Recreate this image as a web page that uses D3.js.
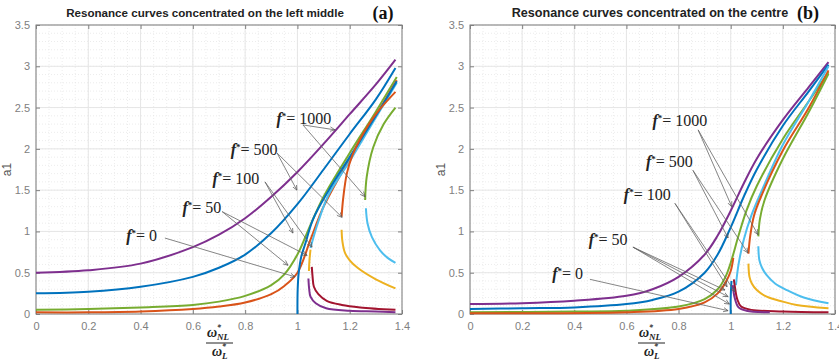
<!DOCTYPE html>
<html>
<head>
<meta charset="utf-8">
<script src="https://cdn.jsdelivr.net/npm/d3@7"></script>
<style>
  body { margin: 0; background: #fff; }
  svg { display: block; }
  .tick text { font-family: Arial, "Liberation Sans", sans-serif; font-size: 11px; fill: #808080; }
</style>
</head>
<body>
<div id="chart"></div>
<script>
// tick values
const xTicks = [0, 0.2, 0.4, 0.6, 0.8, 1, 1.2, 1.4];
const yTicks = [0, 0.5, 1, 1.5, 2, 2.5, 3, 3.5];

// panel (a) curves, [w, a1]
const aPurple = [[0,0.50],[0.2,0.53],[0.4,0.61],[0.6,0.81],[0.7,0.96],[0.8,1.16],[0.9,1.42],[1.0,1.72],[1.1,2.06],[1.2,2.42],[1.3,2.78],[1.375,3.08]];
const aBlue = [[0,0.25],[0.2,0.27],[0.4,0.33],[0.6,0.45],[0.7,0.56],[0.8,0.72],[0.9,0.98],[1.0,1.33],[1.1,1.75],[1.2,2.18],[1.3,2.60],[1.375,2.98]];
const aGreen = [[0,0.05],[0.2,0.06],[0.4,0.08],[0.6,0.11],[0.7,0.15],[0.8,0.22],[0.9,0.35],[0.95,0.48],[1.0,0.72],[1.05,1.08],[1.1,1.42],[1.2,1.95],[1.3,2.45],[1.38,2.87]];
const aOrange = [[0,0.02],[0.2,0.02],[0.4,0.03],[0.6,0.06],[0.7,0.09],[0.8,0.14],[0.9,0.24],[0.95,0.34],[1.0,0.50],[1.05,0.90],[1.1,1.30],[1.2,1.88],[1.3,2.40],[1.38,2.83]];
const aBackbone = [[1.0,0],[1.001,0.3],[1.005,0.5],[1.015,0.7],[1.03,0.85],[1.06,1.15],[1.12,1.5],[1.2,1.9],[1.3,2.4],[1.38,2.82]];
const aCyan = [[1.05,0.80],[1.08,1.12],[1.12,1.45],[1.2,1.85],[1.3,2.38],[1.38,2.80]];
const aYellowShort = [[1.044,0.52],[1.046,0.65],[1.05,0.78]];
const aPurpleLow = [[1.042,0.43],[1.045,0.30],[1.05,0.21],[1.07,0.13],[1.11,0.07],[1.2,0.04],[1.3,0.03],[1.375,0.02]];
const aRedLow = [[1.055,0.57],[1.058,0.45],[1.063,0.33],[1.08,0.24],[1.112,0.16],[1.17,0.11],[1.24,0.08],[1.375,0.05]];
const aOrangeRight = [[1.169,1.18],[1.175,1.40],[1.189,1.70],[1.21,1.92],[1.24,2.12],[1.3,2.42],[1.375,2.69]];
const aYellowLow = [[1.169,1.02],[1.172,0.88],[1.182,0.74],[1.2,0.65],[1.23,0.56],[1.3,0.42],[1.375,0.31]];
const aGreenRight = [[1.259,1.38],[1.265,1.66],[1.29,2.02],[1.33,2.30],[1.375,2.50]];
const aCyanLow = [[1.262,1.28],[1.268,1.10],[1.285,0.93],[1.316,0.77],[1.345,0.68],[1.375,0.62]];

// panel (b) curves
const bPurple = [[0,0.12],[0.2,0.13],[0.4,0.16],[0.6,0.22],[0.7,0.30],[0.8,0.45],[0.9,0.72],[0.95,0.95],[1.0,1.25],[1.05,1.58],[1.1,1.88],[1.2,2.35],[1.3,2.75],[1.375,3.05]];
const bBlue = [[0,0.06],[0.2,0.07],[0.4,0.08],[0.6,0.12],[0.7,0.17],[0.8,0.27],[0.9,0.50],[0.95,0.72],[1.0,1.05],[1.05,1.42],[1.1,1.75],[1.2,2.28],[1.3,2.70],[1.375,3.02]];
const bGreen = [[0,0.02],[0.4,0.03],[0.6,0.04],[0.8,0.09],[0.9,0.18],[0.95,0.30],[0.98,0.45],[1.0,0.62],[1.03,0.95],[1.06,1.25],[1.1,1.55],[1.2,2.12],[1.3,2.58],[1.375,2.93]];
const bOrange = [[0,0.01],[0.6,0.02],[0.8,0.06],[0.9,0.14],[0.95,0.25],[0.98,0.38],[1.0,0.52],[1.01,0.68]];
const bCyan = [[1.02,0.35],[1.03,0.6],[1.05,0.9],[1.08,1.2],[1.12,1.5],[1.2,2.05],[1.3,2.58],[1.375,3.0]];
const bBackbone = [[1.0,0],[1.0,0.2],[1.003,0.4]];
const bOrangeRight = [[1.068,0.73],[1.075,0.95],[1.09,1.20],[1.12,1.45],[1.2,1.98],[1.3,2.5],[1.375,2.95]];
const bGreenRight = [[1.106,0.94],[1.112,1.15],[1.13,1.38],[1.2,1.88],[1.3,2.45],[1.375,2.91]];
const bRedLow = [[1.012,0.42],[1.016,0.33],[1.025,0.18],[1.04,0.09],[1.08,0.05],[1.2,0.03],[1.375,0.02]];
const bPurpleLow = [[1.008,0.35],[1.015,0.2],[1.03,0.08],[1.06,0.04],[1.15,0.02]];
const bYellowLow = [[1.068,0.61],[1.072,0.45],[1.081,0.37],[1.1,0.29],[1.138,0.21],[1.2,0.15],[1.253,0.11],[1.375,0.07]];
const bCyanLow = [[1.106,0.82],[1.11,0.65],[1.12,0.56],[1.138,0.47],[1.17,0.37],[1.215,0.29],[1.28,0.2],[1.375,0.13]];

// annotation labels (f* values)
const fLabels = ["0", "50", "100", "500", "1000"];

const C = {
  blue: "#0072BD", orange: "#D95319", yellow: "#EDB120", purple: "#7E2F8E",
  green: "#77AC30", cyan: "#4DBEEE", red: "#A2142F"
};

const panels = [
  {
    left: 36, right: 402, top: 25, bottom: 314,
    title: "Resonance curves concentrated on the left middle", tag: "(a)",
    titleX: 205, titleSize: 11.6, tagX: 383, xlabX: 220,
    curves: [
      [aPurple, C.purple], [aBlue, C.blue], [aGreen, C.green], [aOrange, C.orange],
      [aCyan, C.cyan], [aBackbone, C.blue], [aYellowShort, C.yellow],
      [aPurpleLow, C.purple], [aRedLow, C.red], [aOrangeRight, C.orange],
      [aYellowLow, C.yellow], [aGreenRight, C.green], [aCyanLow, C.cyan]
    ],
    notes: [
      { t: fLabels[0], at: [0.345, 0.88], from: [0.493, 0.92], to: [[0.991, 0.45]] },
      { t: fLabels[1], at: [0.56, 1.22], from: [0.712, 1.24], to: [[0.964, 0.59], [1.037, 0.71]] },
      { t: fLabels[2], at: [0.675, 1.58], from: [0.876, 1.60], to: [[0.983, 0.98], [1.056, 0.81]] },
      { t: fLabels[3], at: [0.745, 1.93], from: [0.922, 1.95], to: [[0.998, 1.50], [1.171, 1.17]] },
      { t: fLabels[4], at: [0.92, 2.30], from: [1.021, 2.29], to: [[1.144, 2.23], [1.259, 1.42]] }
    ]
  },
  {
    left: 470, right: 835, top: 25, bottom: 314,
    title: "Resonance curves concentrated on the centre", tag: "(b)",
    titleX: 650, titleSize: 12.6, tagX: 808, xlabX: 652,
    curves: [
      [bPurple, C.purple], [bBlue, C.blue], [bGreen, C.green], [bOrange, C.orange],
      [bCyan, C.cyan], [bBackbone, C.blue], [bOrangeRight, C.orange], [bGreenRight, C.green],
      [bRedLow, C.red], [bPurpleLow, C.purple], [bYellowLow, C.yellow], [bCyanLow, C.cyan]
    ],
    notes: [
      { t: fLabels[0], at: [0.315, 0.42], from: [0.46, 0.42], to: [[0.99, 0.04]] },
      { t: fLabels[1], at: [0.455, 0.84], from: [0.625, 0.81], to: [[0.978, 0.29], [0.99, 0.21], [0.995, 0.12]] },
      { t: fLabels[2], at: [0.59, 1.38], from: [0.786, 1.34], to: [[0.986, 0.33], [1.016, 0.27]] },
      { t: fLabels[3], at: [0.675, 1.78], from: [0.855, 1.74], to: [[0.99, 0.92], [1.066, 0.74]] },
      { t: fLabels[4], at: [0.70, 2.28], from: [0.875, 2.23], to: [[1.004, 1.30], [1.105, 0.96]] }
    ]
  }
];

const W = 839, H = 361;
const serif = "'Liberation Serif', 'DejaVu Serif', serif";
const sans = "Arial, 'Liberation Sans', sans-serif";
const svg = d3.select("#chart").append("svg").attr("width", W).attr("height", H);

svg.append("defs").append("marker")
  .attr("id", "arr").attr("viewBox", "0 0 10 10").attr("refX", 9).attr("refY", 5)
  .attr("markerWidth", 7).attr("markerHeight", 7).attr("orient", "auto")
  .append("path").attr("d", "M0,1 L9,5 L0,9").attr("fill", "none")
  .attr("stroke", "#555").attr("stroke-width", 1.2);

panels.forEach(p => {
  const x = d3.scaleLinear().domain([0, 1.4]).range([p.left, p.right]);
  const y = d3.scaleLinear().domain([0, 3.5]).range([p.bottom, p.top]);
  const g = svg.append("g");

  // minor grid
  g.append("g").selectAll("line").data(d3.range(0, 1.4001, 0.05)).join("line")
    .attr("x1", d => x(d)).attr("x2", d => x(d)).attr("y1", p.top).attr("y2", p.bottom)
    .attr("stroke", "#e4e4e4").attr("stroke-width", 0.7).attr("stroke-dasharray", "1,2");
  g.append("g").selectAll("line").data(d3.range(0, 3.5001, 0.1)).join("line")
    .attr("y1", d => y(d)).attr("y2", d => y(d)).attr("x1", p.left).attr("x2", p.right)
    .attr("stroke", "#e4e4e4").attr("stroke-width", 0.7).attr("stroke-dasharray", "1,2");
  // major grid
  g.append("g").selectAll("line").data(xTicks).join("line")
    .attr("x1", d => x(d)).attr("x2", d => x(d)).attr("y1", p.top).attr("y2", p.bottom)
    .attr("stroke", "#e6e6e6").attr("stroke-width", 1);
  g.append("g").selectAll("line").data(yTicks).join("line")
    .attr("y1", d => y(d)).attr("y2", d => y(d)).attr("x1", p.left).attr("x2", p.right)
    .attr("stroke", "#e6e6e6").attr("stroke-width", 1);

  // axes, ticks pointing in
  const xa = g.append("g").attr("transform", `translate(0,${p.bottom})`)
    .call(d3.axisBottom(x).tickValues(xTicks).tickSize(-4).tickPadding(8).tickFormat(d3.format("~g")));
  const ya = g.append("g").attr("transform", `translate(${p.left},0)`)
    .call(d3.axisLeft(y).tickValues(yTicks).tickSize(-4).tickPadding(6).tickFormat(d3.format("~g")));
  const xt = g.append("g").attr("transform", `translate(0,${p.top})`)
    .call(d3.axisTop(x).tickValues(xTicks).tickSize(-4).tickFormat(""));
  const yr = g.append("g").attr("transform", `translate(${p.right},0)`)
    .call(d3.axisRight(y).tickValues(yTicks).tickSize(-4).tickFormat(""));
  [xa, ya, xt, yr].forEach(a => {
    a.select(".domain").remove();
    a.selectAll(".tick line").attr("stroke", "#808080");
  });
  g.append("rect").attr("x", p.left).attr("y", p.top)
    .attr("width", p.right - p.left).attr("height", p.bottom - p.top)
    .attr("fill", "none").attr("stroke", "#808080").attr("stroke-width", 1);

  // curves
  const line = d3.line().x(d => x(d[0])).y(d => y(d[1])).curve(d3.curveCatmullRom.alpha(0.5));
  g.append("g").selectAll("path").data(p.curves).join("path")
    .attr("d", d => line(d[0])).attr("fill", "none")
    .attr("stroke", d => d[1]).attr("stroke-width", 2);

  // annotations
  p.notes.forEach(n => {
    n.to.forEach(t => {
      g.append("line")
        .attr("x1", x(n.from[0])).attr("y1", y(n.from[1]))
        .attr("x2", x(t[0])).attr("y2", y(t[1]))
        .attr("stroke", "#666").attr("stroke-width", 0.8).attr("marker-end", "url(#arr)");
    });
    const tx = g.append("text").attr("x", x(n.at[0])).attr("y", y(n.at[1]))
      .attr("font-family", serif).attr("font-size", 16).attr("fill", "#222");
    tx.append("tspan").text("f").attr("font-style", "italic").attr("font-weight", "bold");
    tx.append("tspan").text("*").attr("font-size", 9).attr("dy", -5).attr("font-weight", "bold");
    tx.append("tspan").text("= " + n.t).attr("dy", 5);
  });

  // title
  svg.append("text").attr("x", p.titleX).attr("y", 17).attr("text-anchor", "middle")
    .attr("font-family", sans).attr("font-weight", "bold")
    .attr("font-size", p.titleSize).attr("fill", "#222").text(p.title);
  svg.append("text").attr("x", p.tagX).attr("y", 19).attr("text-anchor", "middle")
    .attr("font-family", serif).attr("font-weight", "bold")
    .attr("font-size", 18).attr("fill", "#111").text(p.tag);

  // y label
  svg.append("text").attr("transform", `translate(${p.left - 25},${(p.top + p.bottom) / 2}) rotate(-90)`)
    .attr("text-anchor", "middle").attr("font-family", sans)
    .attr("font-size", 12).attr("fill", "#555").text("a1");

  // x label as a fraction
  const frac = svg.append("g").attr("font-family", serif).attr("font-weight", "bold")
    .attr("font-style", "italic").attr("fill", "#222");
  frac.append("text").attr("x", p.xlabX - 13).attr("y", 337).attr("font-size", 14).text("ω");
  frac.append("text").attr("x", p.xlabX - 3).attr("y", 330).attr("font-size", 8).text("*");
  frac.append("text").attr("x", p.xlabX - 3).attr("y", 340).attr("font-size", 9).text("NL");
  svg.append("line").attr("x1", p.xlabX - 14).attr("x2", p.xlabX + 13)
    .attr("y1", 343).attr("y2", 343).attr("stroke", "#222").attr("stroke-width", 1);
  frac.append("text").attr("x", p.xlabX - 8).attr("y", 356).attr("font-size", 14).text("ω");
  frac.append("text").attr("x", p.xlabX + 2).attr("y", 349).attr("font-size", 8).text("*");
  frac.append("text").attr("x", p.xlabX + 2).attr("y", 359).attr("font-size", 9).text("L");
});
</script>
</body>
</html>
